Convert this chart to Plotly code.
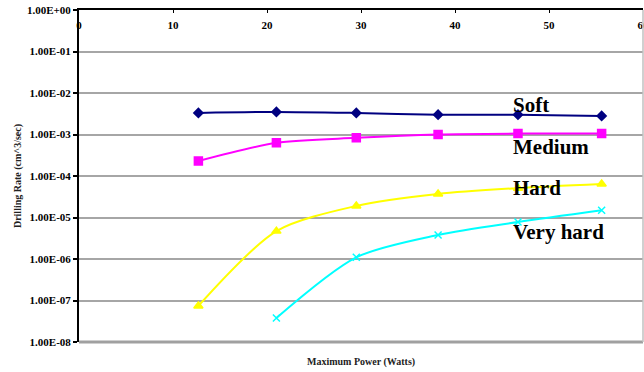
import plotly.graph_objects as go

power = [12.7, 21.0, 29.5, 38.2, 46.7, 55.6]
soft = [3.3e-3, 3.5e-3, 3.3e-3, 3.0e-3, 3.0e-3, 2.8e-3]
medium = [2.3e-4, 6.3e-4, 8.3e-4, 1.0e-3, 1.05e-3, 1.05e-3]
hard = [7.4e-8, 4.7e-6, 1.9e-5, 3.7e-5, 5.1e-5, 6.4e-5]
power_vh = [21.0, 29.5, 38.2, 46.7, 55.6]
very_hard = [3.8e-8, 1.1e-6, 3.8e-6, 7.8e-6, 1.5e-5]

y_tickvals = [1e0, 1e-1, 1e-2, 1e-3, 1e-4, 1e-5, 1e-6, 1e-7, 1e-8]
y_ticktext = ["1.00E+00", "1.00E-01", "1.00E-02", "1.00E-03", "1.00E-04",
              "1.00E-05", "1.00E-06", "1.00E-07", "1.00E-08"]
x_tickvals = [0, 10, 20, 30, 40, 50, 60]

series = [
    ("Soft", power, soft, "#000080", "diamond", 7, -2.29),
    ("Medium", power, medium, "#FF00FF", "square", 8, -3.30),
    ("Hard", power, hard, "#FFFF00", "triangle-up", 8, -4.29),
    ("Very hard", power_vh, very_hard, "#00FFFF", "x-thin", 7, -5.35),
]

SERIF = "Liberation Serif, Times New Roman, serif"
fig = go.Figure()
for name, xs, ys, col, sym, ms, ly in series:
    fig.add_trace(go.Scatter(
        x=xs, y=ys, mode="lines+markers", name=name,
        line=dict(color=col, width=2, shape="spline", smoothing=0.8),
        marker=dict(symbol=sym, size=ms, color=col,
                    line=dict(color=col, width=1.5)),
        showlegend=False, cliponaxis=False))
    fig.add_annotation(x=46.0, y=ly, xref="x", yref="y", text=f"<b>{name}</b>",
                       showarrow=False, xanchor="left", yanchor="middle",
                       font=dict(family=SERIF, size=21, color="black"))

fig.update_layout(
    width=644, height=372,
    margin=dict(l=79, r=1, t=10, b=30, autoexpand=False),
    paper_bgcolor="white", plot_bgcolor="white",
    font=dict(family=SERIF, color="black"),
)
fig.update_xaxes(
    range=[0, 60], side="top", tickvals=x_tickvals, automargin=False,
    ticks="inside", ticklen=3, tickcolor="black", tickwidth=1,
    ticklabelposition="inside", ticklabeloverflow="allow", ticklabelstandoff=8,
    tickfont=dict(family=SERIF, size=11, color="black", weight="bold"),
    showgrid=False, zeroline=False,
    showline=True, linecolor="black", linewidth=1.5,
)
fig.update_yaxes(
    type="log", range=[-8.0001, 0.0001], tickvals=y_tickvals, ticktext=y_ticktext,
    automargin=False,
    ticks="outside", ticklen=4, tickcolor="black", tickwidth=2,
    tickfont=dict(family=SERIF, size=11, color="black", weight="bold"),
    showgrid=True, gridcolor="#A6A6A6", gridwidth=1.5,
    zeroline=False, showline=True, linecolor="black", linewidth=2,
)
# bottom and right border of plot area
fig.add_shape(type="line", xref="paper", yref="paper", x0=0, x1=1, y0=0, y1=0,
              line=dict(color="#A0A0A0", width=3))
fig.add_shape(type="line", xref="paper", yref="paper", x0=1, x1=1, y0=0, y1=1,
              line=dict(color="#C0C0C0", width=1.5))
fig.add_annotation(x=0.5, y=-0.06, xref="paper", yref="paper",
                   text="<b>Maximum Power (Watts)</b>", showarrow=False,
                   xanchor="center", yanchor="middle",
                   font=dict(family=SERIF, size=10, color="#222"))
fig.add_annotation(x=-0.108, y=0.5, xref="paper", yref="paper",
                   text="<b>Drilling Rate (cm^3/sec)</b>", showarrow=False,
                   textangle=-90, xanchor="center", yanchor="middle",
                   font=dict(family=SERIF, size=10, color="#222"))

fig.write_html("out.html", config={"displayModeBar": False},
               post_script="document.body.style.margin='0';document.body.style.overflow='hidden';")
